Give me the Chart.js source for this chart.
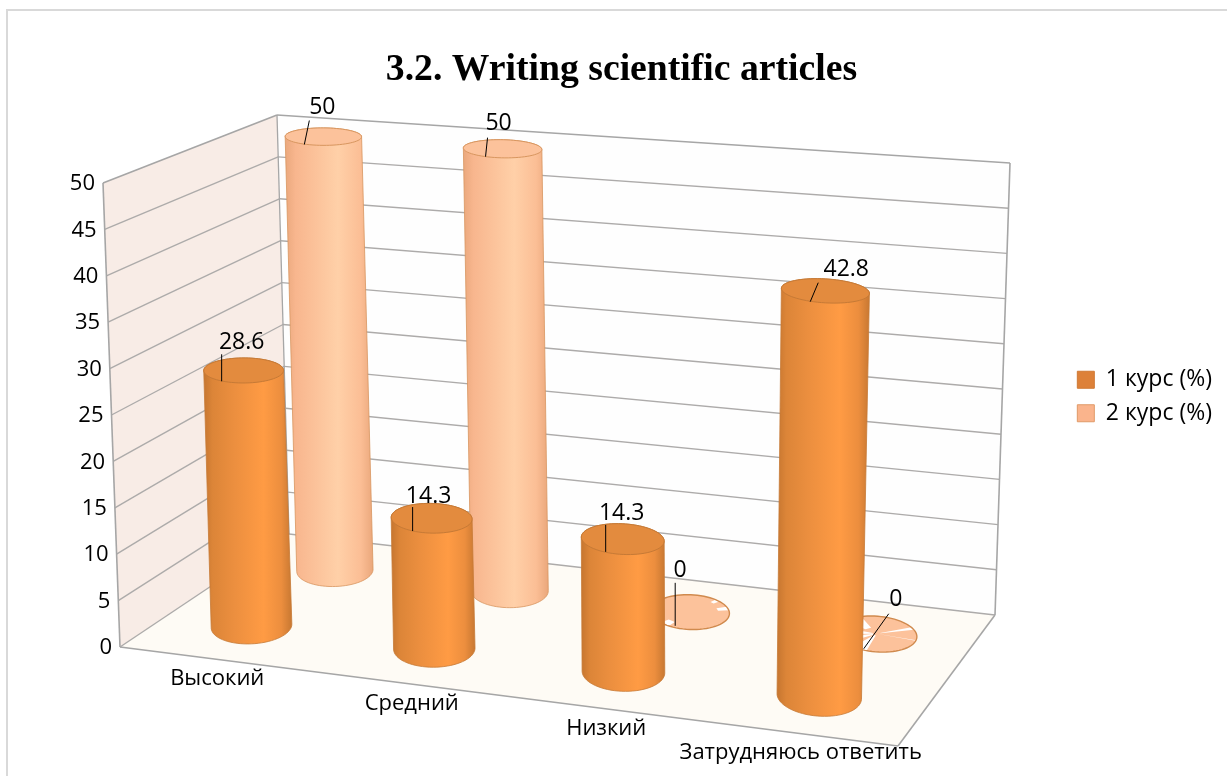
<!DOCTYPE html>
<html>
<head>
<meta charset="utf-8">
<title>3.2. Writing scientific articles</title>
<script src="https://cdn.jsdelivr.net/npm/chart.js@4/dist/chart.umd.js"></script>
<style>
html,body{margin:0;padding:0;background:#fff;overflow:hidden;width:1227px;height:776px;}
#box{position:absolute;left:6px;top:9px;width:1240px;height:790px;border:2px solid #d9d9d9;}
</style>
</head>
<body>
<div id="box"><canvas id="chart" width="1227" height="776"></canvas></div>
<script>
// Values
const categories = ['Высокий','Средний','Низкий','Затрудняюсь ответить'];
const course1 = [28.6,14.3,14.3,42.8];
const course2 = [50,50,0,0];
const seriesNames = ['1 курс (%)','2 курс (%)'];

const uiFont = '"Open Sans"';
const tickSize = 22;
const valueSize = 23;

// The box of the 3D plot on the canvas: front-left, front-right, back-right, back-left
const floorQuad = [[112,636],[890,735],[987,604],[281,523]];
const roofQuad = [[95,172],[903,233],[1002,152],[269,104]];

// Depth, sideways nudge and height factor of each series row, and shape of the cylinders
const rowDepth = [0.26,0.75];
const rowShift = [-0.007,-0.0005];
const rowHeight = [0.98,1];
const depthRadius = 0.135;
const capFlatten = 0.88;
const capShear = 0.012;

// Leader line start, leader line end, text centre; pixels from the centre of the top cap
const labelOffsets = [
	[[-22,11,-22,-16,-2,-28],[-19,13,-19,-11,-3,-22],[-17,13,-17,-14,-1,-25],[-15,11,-7,-8,21,-21]],
	[[-19,8,-14,-16,-1,-29],[-17,8,-15,-11,-4,-25],[-15,14,-15,-29,-10,-41],[-13,15,12,-20,19,-34]]
];

// White slivers that show through the flat zero discs: [from angle, to angle, inner radius]
const zeroSlivers = {
	2:[[20,32,0.72],[232,248,0.72],[52,60,0.8]],
	3:[[-8,-6,0],[28,36,0.1],[172,196,0.1],[205,225,0.1],[240,262,0.1],[120,150,0.35]]
};

const looks = [
	{'stops':[[0,'#c67630'],[0.1,'#dc8538'],[0.35,'#ec8f3f'],[0.68,'#ff9b44'],[0.88,'#ec8e3e'],[1,'#c87832']],'cap':'#e38b3e','line':'#c67a36'},
	{'stops':[[0,'#eaa87d'],[0.12,'#f8b68e'],[0.6,'#ffd0a8'],[0.86,'#fbbe95'],[1,'#eaa77b']],'cap':'#fcc29b','line':'#d8965f'}
];

function quadMap(q){
	const [x0,y0] = q[0], [x1,y1] = q[1], [x2,y2] = q[2], [x3,y3] = q[3];
	const dx1 = x1-x2, dx2 = x3-x2, sx = x0-x1+x2-x3;
	const dy1 = y1-y2, dy2 = y3-y2, sy = y0-y1+y2-y3;
	const den = dx1*dy2-dx2*dy1;
	const g = (sx*dy2-dx2*sy)/den, h = (dx1*sy-sx*dy1)/den;
	const a = x1-x0+g*x1, b = x3-x0+h*x3, d = y1-y0+g*y1, e = y3-y0+h*y3;
	return function(u,v){
		const t = g*u+h*v+1;
		return [(a*u+b*v+x0)/t,(d*u+e*v+y0)/t];
	};
}
const floorAt = quadMap(floorQuad);
const roofAt = quadMap(roofQuad);

// u across, v into the depth, w up (all 0 to 1)
function project(u,v,w){
	const p = floorAt(u,v), q = roofAt(u,v);
	return [p[0]+(q[0]-p[0])*w,p[1]+(q[1]-p[1])*w];
}

function hull(pts){
	const s = pts.slice().sort(function(a,b){ return a[0]-b[0] || a[1]-b[1]; });
	const cross = function(o,a,b){ return (a[0]-o[0])*(b[1]-o[1])-(a[1]-o[1])*(b[0]-o[0]); };
	const lo = [], up = [];
	s.forEach(function(p){
		while(lo.length>1 && cross(lo[lo.length-2],lo[lo.length-1],p)<=0) lo.pop();
		lo.push(p);
	});
	s.reverse().forEach(function(p){
		while(up.length>1 && cross(up[up.length-2],up[up.length-1],p)<=0) up.pop();
		up.push(p);
	});
	return lo.slice(0,-1).concat(up.slice(0,-1));
}

function tracePoly(ctx,pts){
	ctx.beginPath();
	pts.forEach(function(p,i){ if(i==0) ctx.moveTo(p[0],p[1]); else ctx.lineTo(p[0],p[1]); });
	ctx.closePath();
}

// A point of a cylinder's circle; the shear keeps the ellipses from tipping too far
function ringPoint(u,v,ru,a,r,w,flat){
	const c = Math.cos(a*Math.PI/180), s = Math.sin(a*Math.PI/180);
	return project(u+r*(ru*c-capShear*s),v+r*depthRadius*flat*s,w);
}

function ring(u,v,ru,w,flat){
	const pts = [];
	for(let a = 0; a < 360; a += 5) pts.push(ringPoint(u,v,ru,a,1,w,flat));
	return pts;
}

function wallLine(ctx,a,b,colour,width){
	ctx.beginPath();
	ctx.moveTo(a[0],a[1]);
	ctx.lineTo(b[0],b[1]);
	ctx.strokeStyle = colour;
	ctx.lineWidth = width;
	ctx.stroke();
}

const plot3d = {
	'id':'plot3d',
	// Walls, floor, grid lines and axis labels
	'beforeDatasetsDraw': function(chart){
		const ctx = chart.ctx, yScale = chart.scales.y, xScale = chart.scales.x, area = chart.chartArea;
		ctx.save();
		tracePoly(ctx,[project(0,0,0),project(0,1,0),project(0,1,1),project(0,0,1)]);
		ctx.fillStyle = '#f8ece6';
		ctx.fill();
		tracePoly(ctx,[project(0,1,0),project(1,1,0),project(1,1,1),project(0,1,1)]);
		ctx.fillStyle = '#fefefe';
		ctx.fill();
		tracePoly(ctx,[project(0,0,0),project(1,0,0),project(1,1,0),project(0,1,0)]);
		ctx.fillStyle = '#fefbf5';
		ctx.fill();

		ctx.font = tickSize+'px '+uiFont;
		ctx.fillStyle = '#000000';
		yScale.ticks.forEach(function(t){
			const w = (area.bottom-yScale.getPixelForValue(t.value))/area.height;
			if(w < 0.999){
				wallLine(ctx,project(0,0,w),project(0,1,w),'#adabaa',1.4);
				wallLine(ctx,project(0,1,w),project(1,1,w),'#adabaa',1.4);
			}
			const p = project(0,0,w);
			ctx.textAlign = 'right';
			ctx.textBaseline = 'middle';
			ctx.fillText(t.label,p[0]-8,p[1]+1);
		});
		const edge = '#a6a6a6';
		wallLine(ctx,project(0,0,1),project(0,1,1),edge,1.6);
		wallLine(ctx,project(0,1,1),project(1,1,1),edge,1.3);
		wallLine(ctx,project(0,0,0),project(0,0,1),edge,1.6);
		wallLine(ctx,project(0,1,0),project(0,1,1),edge,1.3);
		wallLine(ctx,project(1,1,0),project(1,1,1),edge,1.6);
		wallLine(ctx,project(0,0,0),project(1,0,0),edge,1.6);
		wallLine(ctx,project(1,0,0),project(1,1,0),edge,1.6);

		// Category labels are spaced evenly along the front edge of the floor
		ctx.textAlign = 'center';
		const fl = floorQuad[0], fr = floorQuad[1];
		categories.forEach(function(c,i){
			const u = (xScale.getPixelForValue(i)-area.left)/area.width;
			ctx.fillText(c,fl[0]+(fr[0]-fl[0])*u,fl[1]+(fr[1]-fl[1])*u+19.5);
		});
		ctx.restore();
	},
	// Each bar is drawn as a cylinder in place of the flat rectangle
	'beforeDatasetDraw': function(chart,args){
		const ctx = chart.ctx, area = chart.chartArea, look = looks[args.index];
		const v = rowDepth[args.index];
		ctx.save();
		args.meta.data.forEach(function(el,i){
			const u = (el.x-area.left)/area.width+rowShift[args.index];
			const ru = (el.width/area.width)/2;
			const w = rowHeight[args.index]*(area.bottom-el.y)/area.height;
			const base = ring(u,v,ru,0,1);
			const top = ring(u,v,ru,w,w > 0 ? capFlatten : 1);
			if(w > 0){
				const body = hull(base.concat(top));
				let xmin = Infinity, xmax = -Infinity;
				body.forEach(function(p){ xmin = Math.min(xmin,p[0]); xmax = Math.max(xmax,p[0]); });
				const grad = ctx.createLinearGradient(xmin,0,xmax,0);
				look.stops.forEach(function(s){ grad.addColorStop(s[0],s[1]); });
				tracePoly(ctx,body);
				ctx.fillStyle = grad;
				ctx.fill();
				ctx.strokeStyle = look.line;
				ctx.lineWidth = 0.8;
				ctx.stroke();
			}
			tracePoly(ctx,top);
			ctx.fillStyle = look.cap;
			ctx.fill();
			if(w == 0 && zeroSlivers[i]){
				ctx.fillStyle = '#ffffff';
				zeroSlivers[i].forEach(function(s){
					tracePoly(ctx,[ringPoint(u,v,ru,s[0],s[2],0,1),ringPoint(u,v,ru,s[0],1,0,1),ringPoint(u,v,ru,s[1],1,0,1),ringPoint(u,v,ru,s[1],s[2],0,1)]);
					ctx.fill();
				});
			}
			tracePoly(ctx,top);
			ctx.strokeStyle = w == 0 ? '#d08a4e' : look.line;
			ctx.lineWidth = w == 0 ? 1.4 : 1;
			ctx.stroke();
		});
		ctx.restore();
		return false;
	},
	// Value labels with their leader lines go over everything
	'afterDatasetsDraw': function(chart){
		const ctx = chart.ctx, area = chart.chartArea;
		ctx.save();
		ctx.font = valueSize+'px '+uiFont;
		ctx.fillStyle = '#000000';
		ctx.textAlign = 'center';
		ctx.textBaseline = 'middle';
		chart.data.datasets.forEach(function(ds,d){
			chart.getDatasetMeta(d).data.forEach(function(el,i){
				const u = (el.x-area.left)/area.width+rowShift[d];
				const w = rowHeight[d]*(area.bottom-el.y)/area.height;
				const c = project(u,rowDepth[d],w);
				const o = labelOffsets[d][i];
				wallLine(ctx,[c[0]+o[0],c[1]+o[1]],[c[0]+o[2],c[1]+o[3]],'#000000',1);
				ctx.fillText(String(ds.data[i]),c[0]+o[4],c[1]+o[5]);
			});
		});
		ctx.restore();
	}
};

new Chart(document.getElementById('chart'),{
	'type':'bar',
	'data':{
		'labels':categories,
		'datasets':[
			{'label':seriesNames[0],'data':course1,'backgroundColor':'#dd8139','borderColor':'#d07a35','borderWidth':1},
			{'label':seriesNames[1],'data':course2,'backgroundColor':'#fab48c','borderColor':'#e09a68','borderWidth':1}
		]
	},
	'options':{
		'responsive':false,
		'animation':false,
		'grouped':false,
		'barPercentage':0.42,
		'categoryPercentage':1,
		'layout':{'padding':{'left':13,'right':13,'top':0,'bottom':5}},
		'scales':{
			'x':{'grid':{'display':false},'border':{'display':false},'ticks':{'display':false}},
			'y':{'min':0,'max':50,'ticks':{'display':false,'stepSize':5},'grid':{'display':false},'border':{'display':false}}
		},
		'plugins':{
			'title':{
				'display':true,
				'text':'3.2. Writing scientific articles',
				'color':'#000000',
				'font':{'family':'"Liberation Serif"','size':37.7,'weight':'bold'},
				'padding':{'top':37,'bottom':10}
			},
			'legend':{
				'position':'right',
				'labels':{'boxWidth':17,'boxHeight':17,'padding':10.5,'color':'#000000','font':{'family':uiFont,'size':valueSize}}
			},
			'tooltip':{'enabled':false}
		}
	},
	'plugins':[plot3d]
});
</script>
</body>
</html>
